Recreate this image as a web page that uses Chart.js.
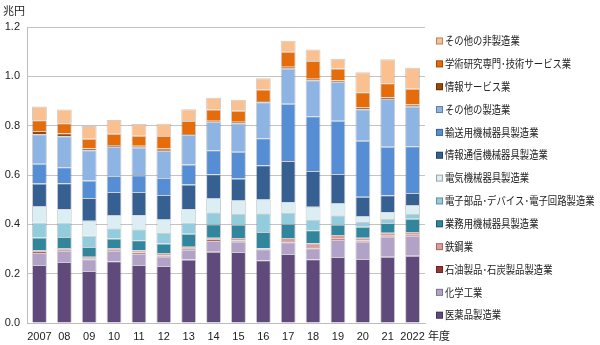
<!DOCTYPE html>
<html lang="ja">
<head>
<meta charset="utf-8">
<script src="https://cdn.jsdelivr.net/npm/chart.js@4"></script>
<style>
  html, body { margin: 0; padding: 0; background: #fff; }
  #wrap { width: 600px; height: 345px; }
</style>
</head>
<body>
<div id="wrap"><canvas id="graficaBarras" width="600" height="345"></canvas></div>
<script>
// =============================
// 業種別 研究費 (兆円) - 積み上げ棒
// =============================

const anios = ["2007", "08", "09", "10", "11", "12", "13", "14", "15", "16", "17", "18", "19", "20", "21", "2022"];

// 下から順に
const iyakuhin   = [0.235, 0.247, 0.211, 0.250, 0.235, 0.231, 0.257, 0.289, 0.288, 0.254, 0.280, 0.258, 0.268, 0.259, 0.269, 0.273];
const kagaku     = [0.049, 0.046, 0.047, 0.043, 0.046, 0.039, 0.040, 0.043, 0.042, 0.045, 0.047, 0.045, 0.068, 0.071, 0.082, 0.081];
const sekiyu     = [0.005, 0.004, 0.004, 0.004, 0.006, 0.004, 0.004, 0.006, 0.005, 0.003, 0.005, 0.005, 0.006, 0.004, 0.003, 0.004];
const tekko      = [0.007, 0.007, 0.007, 0.007, 0.008, 0.010, 0.008, 0.008, 0.010, 0.002, 0.013, 0.015, 0.015, 0.012, 0.012, 0.011];
const gyomu      = [0.051, 0.045, 0.039, 0.039, 0.040, 0.038, 0.053, 0.054, 0.054, 0.065, 0.056, 0.053, 0.042, 0.044, 0.039, 0.054];
const denshi     = [0.060, 0.058, 0.046, 0.041, 0.045, 0.043, 0.045, 0.049, 0.043, 0.076, 0.045, 0.042, 0.038, 0.019, 0.017, 0.019];
const denki      = [0.067, 0.054, 0.061, 0.054, 0.057, 0.055, 0.054, 0.056, 0.055, 0.056, 0.044, 0.053, 0.049, 0.025, 0.027, 0.036];
const joho       = [0.092, 0.106, 0.092, 0.093, 0.094, 0.099, 0.100, 0.098, 0.089, 0.139, 0.167, 0.145, 0.118, 0.078, 0.069, 0.049];
const yuso       = [0.080, 0.064, 0.071, 0.065, 0.068, 0.069, 0.082, 0.097, 0.108, 0.109, 0.232, 0.222, 0.216, 0.227, 0.197, 0.190];
const sonotaSei  = [0.119, 0.126, 0.122, 0.119, 0.112, 0.110, 0.119, 0.116, 0.116, 0.146, 0.143, 0.146, 0.158, 0.128, 0.193, 0.161];
const johoSvc    = [0.013, 0.012, 0.008, 0.007, 0.008, 0.009, 0.004, 0.004, 0.006, 0.005, 0.007, 0.006, 0.006, 0.007, 0.007, 0.008];
const gakujutsu  = [0.044, 0.041, 0.039, 0.045, 0.040, 0.051, 0.053, 0.046, 0.044, 0.047, 0.061, 0.072, 0.048, 0.061, 0.057, 0.064];
const sonotaHi   = [0.056, 0.056, 0.052, 0.056, 0.048, 0.050, 0.048, 0.047, 0.045, 0.045, 0.044, 0.047, 0.039, 0.082, 0.097, 0.085];

const ticksY = [0, 0.2, 0.4, 0.6, 0.8, 1.0, 1.2];

const series = [
    { label: "医薬品製造業",               data: iyakuhin,  color: "#604A7B" },
    { label: "化学工業",                   data: kagaku,    color: "#B3A2C7" },
    { label: "石油製品･石炭製品製造業",     data: sekiyu,    color: "#953735" },
    { label: "鉄鋼業",                     data: tekko,     color: "#E09A98" },
    { label: "業務用機械器具製造業",        data: gyomu,     color: "#31859C" },
    { label: "電子部品･デバイス･電子回路製造業", data: denshi, color: "#93CDDD" },
    { label: "電気機械器具製造業",          data: denki,     color: "#DBEEF4" },
    { label: "情報通信機械器具製造業",      data: joho,      color: "#376092" },
    { label: "輸送用機械器具製造業",        data: yuso,      color: "#558ED5" },
    { label: "その他の製造業",             data: sonotaSei, color: "#8EB4E3" },
    { label: "情報サービス業",             data: johoSvc,   color: "#984807" },
    { label: "学術研究専門･技術サービス業", data: gakujutsu, color: "#E46C0A" },
    { label: "その他の非製造業",           data: sonotaHi,  color: "#FAC090" }
];

const fuente = "'Noto Sans CJK JP', 'Liberation Sans', sans-serif";

// leyenda y unidades dibujadas a mano
const extras = {
    id: "extras",
    afterDraw(chart) {
        const ctx = chart.ctx;
        ctx.save();
        ctx.fillStyle = "#222";
        ctx.textBaseline = "middle";
        ctx.font = "11px " + fuente;
        ctx.textAlign = "left";
        ctx.fillText("兆円", 3, 11);
        ctx.fillText("年度", 428, 336);

        ctx.font = "11px " + fuente;
        const ds = chart.data.datasets;
        for (let k = 0; k < ds.length; k++) {
            const d = ds[ds.length - 1 - k];
            const y = 41 + k * 22.85;
            ctx.fillStyle = d.backgroundColor;
            ctx.fillRect(436, y - 3.5, 7, 7);
            ctx.strokeStyle = "rgba(0,0,0,0.3)";
            ctx.lineWidth = 1;
            ctx.strokeRect(436.5, y - 3, 6, 6);
            ctx.fillStyle = "#222";
            // texto algo comprimido, como en el original
            const w = ctx.measureText(d.label).width;
            ctx.fillText(d.label, 445, y, w * 0.85);
        }
        ctx.restore();
    }
};

const ctxBarras = document.getElementById("graficaBarras").getContext("2d");

new Chart(ctxBarras, {
    type: "bar",
    data: {
        labels: anios,
        datasets: series.map(s => ({
            label: s.label,
            data: s.data,
            backgroundColor: s.color,
            borderColor: "rgba(60,60,60,0.25)",
            borderWidth: 1,
            barPercentage: 0.6,
            categoryPercentage: 1.0
        }))
    },
    options: {
        responsive: false,
        animation: false,
        layout: { padding: { left: 0, right: 175, top: 27, bottom: 0 } },
        plugins: {
            legend: { display: false },
            tooltip: { enabled: false }
        },
        scales: {
            x: {
                stacked: true,
                grid: { display: false, drawTicks: false },
                border: { color: "#BDBDBD", width: 1 },
                ticks: {
                    color: "#222",
                    font: { family: "'Liberation Sans Narrow', 'Liberation Sans', sans-serif", size: 11 },
                    padding: 7,
                    maxRotation: 0,
                    autoSkip: false
                },
                afterFit: scale => { scale.height = 22; }
            },
            y: {
                stacked: true,
                min: 0,
                max: 1.2,
                afterBuildTicks: scale => { scale.ticks = ticksY.map(v => ({ value: v })); },
                grid: { color: "#C4C4C4", lineWidth: 1, drawTicks: false },
                border: { color: "#BDBDBD", width: 1 },
                ticks: {
                    color: "#222",
                    font: { family: "'Liberation Sans Narrow', 'Liberation Sans', sans-serif", size: 11 },
                    padding: 7,
                    callback: v => Number(v).toFixed(1)
                },
                afterFit: scale => { scale.width = 27; }
            }
        }
    },
    plugins: [extras]
});
</script>
</body>
</html>
